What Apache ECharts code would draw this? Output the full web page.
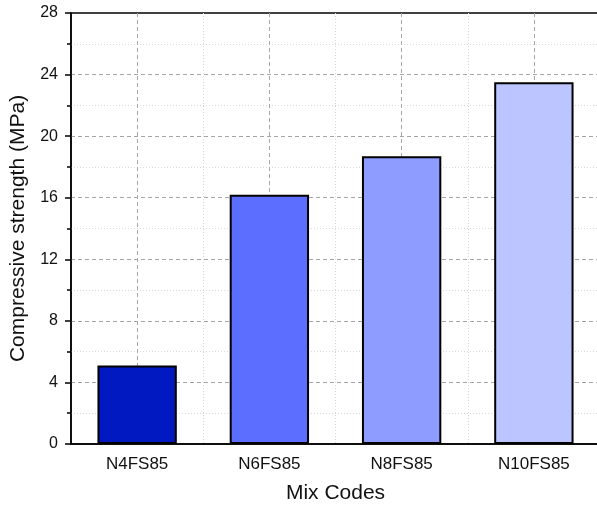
<!DOCTYPE html>
<html><head><meta charset="utf-8">
<script src="https://cdn.jsdelivr.net/npm/echarts@6/dist/echarts.min.js"></script>
<style>html,body{margin:0;padding:0;background:#fff}#c{width:597px;height:513px}</style>
</head><body><div id="c"></div>
<script>
const categories = ['N4FS85', 'N6FS85', 'N8FS85', 'N10FS85'];
const strength = [5.1, 16.2, 18.7, 23.5];
const barColors = ['#0019C0', '#5C6EFF', '#8E9CFF', '#BCC5FF'];
const yTicks = [0, 4, 8, 12, 16, 20, 24, 28];

const chart = echarts.init(document.getElementById('c'));
const font = 'Liberation Sans, Arial, sans-serif';
chart.setOption({
  animation: false,
  grid: { left: 71, width: 529, top: 13, height: 431, outerBoundsMode: 'none', containLabel: false, show: true, borderColor: '#000', borderWidth: 1.5, backgroundColor: 'transparent' },
  xAxis: [{
    type: 'category', data: categories,
    name: 'Mix Codes', nameLocation: 'middle', nameGap: 39,
    nameTextStyle: { fontFamily: font, fontSize: 21, color: '#111' },
    axisLine: { lineStyle: { color: '#000', width: 1.5 } },
    axisTick: { alignWithLabel: true, length: 6, lineStyle: { color: '#000', width: 1.5 } },
    axisLabel: { fontFamily: font, fontSize: 17, color: '#111', margin: 12 },
    splitLine: { show: false }
  }, {
    type: 'value', min: 0, max: 8, interval: 2, position: 'bottom',
    axisLine: { show: false }, axisTick: { show: false }, axisLabel: { show: false },
    splitLine: { show: true, showMinLine: false, showMaxLine: false, lineStyle: { color: '#d9d9d9', type: [1, 2], width: 1 } },
    minorTick: { show: false, splitNumber: 2 },
    minorSplitLine: { show: true, lineStyle: { color: '#a6a6a6', type: [4, 3], width: 1 } }
  }],
  yAxis: {
    type: 'value', min: yTicks[0], max: yTicks[yTicks.length - 1], interval: 4,
    name: 'Compressive strength (MPa)', nameLocation: 'middle', nameGap: 42,
    nameTextStyle: { fontFamily: font, fontSize: 21, color: '#111' },
    axisLine: { show: true, lineStyle: { color: '#000', width: 1.5 } },
    axisTick: { show: true, length: 6, lineStyle: { color: '#000', width: 1.5 } },
    minorTick: { show: true, splitNumber: 2, length: 4, lineStyle: { color: '#000', width: 1.5 } },
    axisLabel: { fontFamily: font, fontSize: 16, color: '#111', margin: 13 },
    splitLine: { show: true, showMinLine: false, showMaxLine: false, lineStyle: { color: '#a6a6a6', type: [4, 3], width: 1 } },
    minorSplitLine: { show: true, lineStyle: { color: '#d9d9d9', type: [1, 2], width: 1 } }
  },
  series: [{
    type: 'bar', xAxisIndex: 0,
    barCategoryGap: '40%',
    data: strength.map((v, i) => ({ value: v, itemStyle: { color: barColors[i] } })),
    itemStyle: { borderColor: '#000', borderWidth: 2 }
  }]
});
</script></body></html>
